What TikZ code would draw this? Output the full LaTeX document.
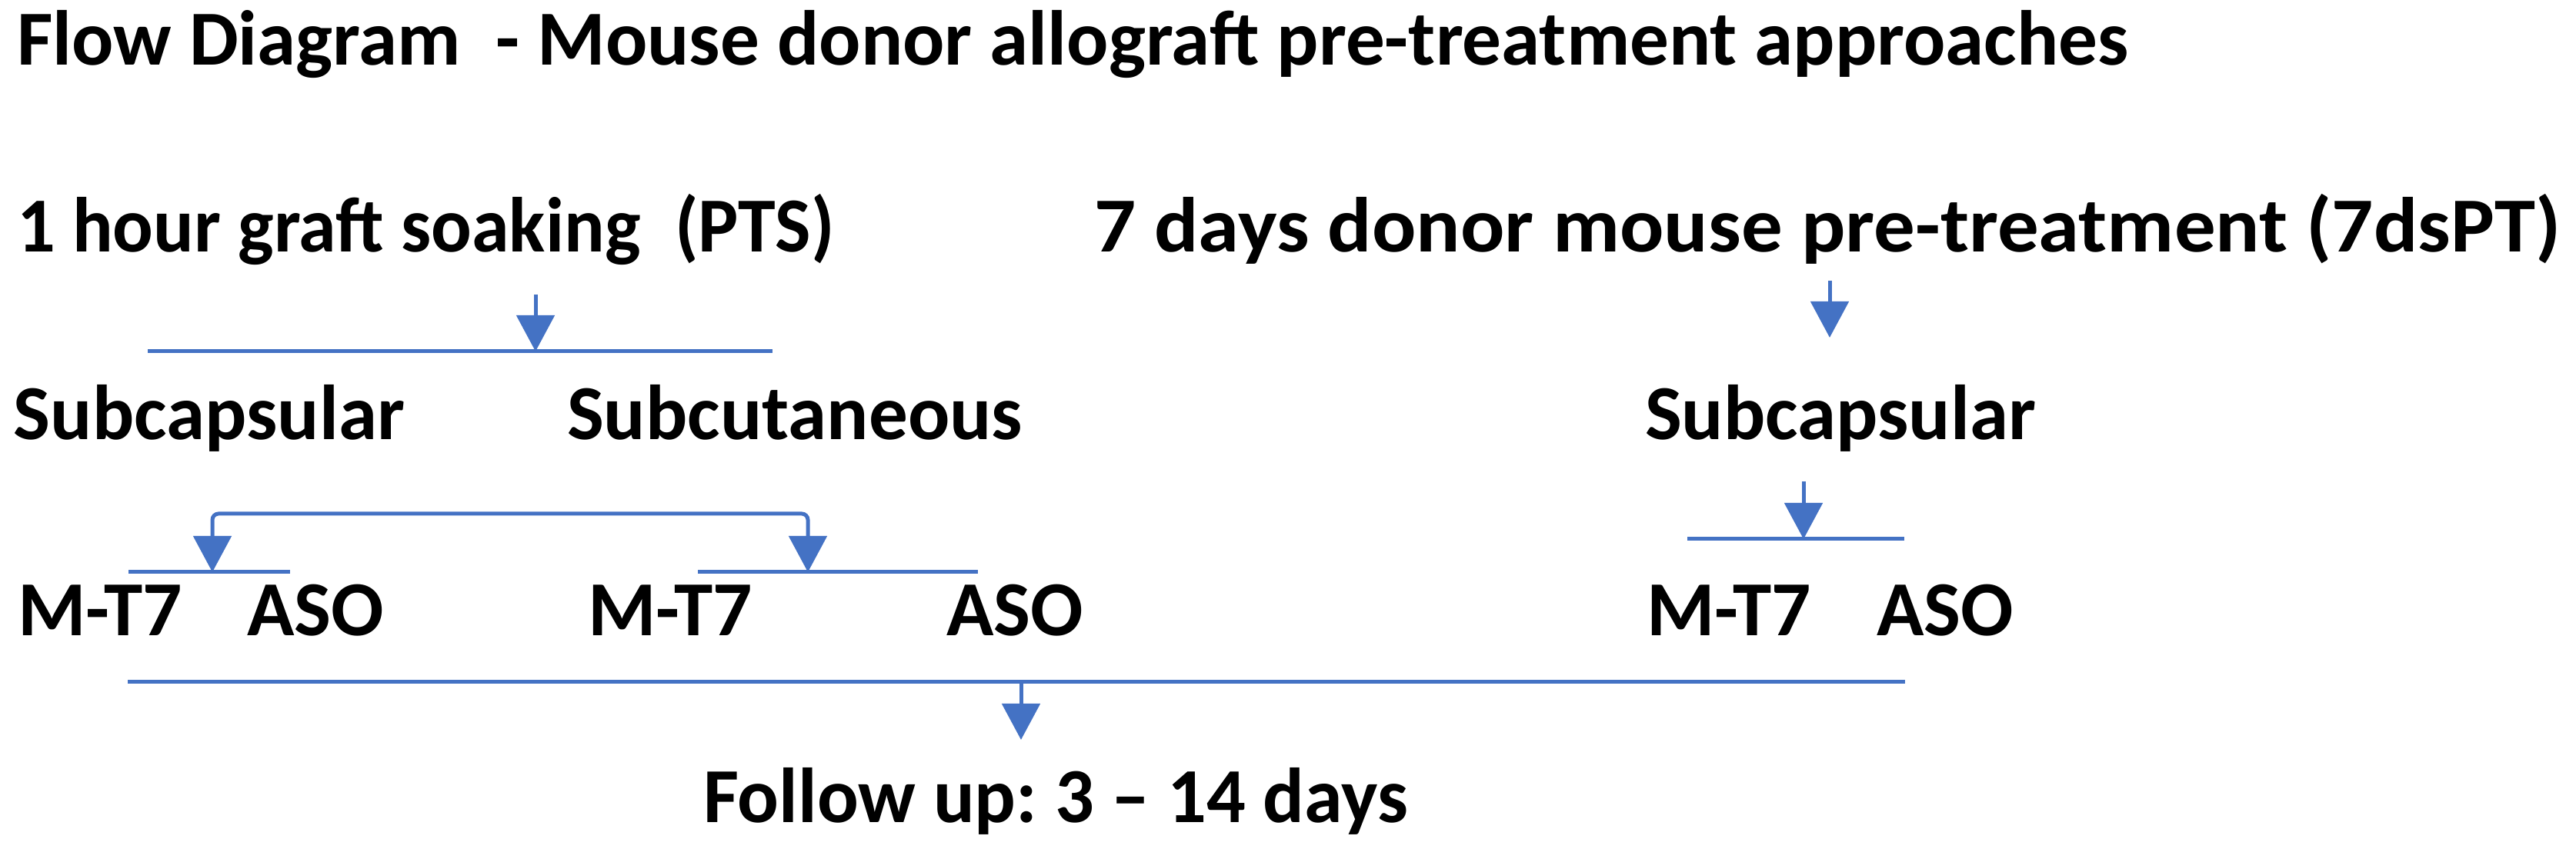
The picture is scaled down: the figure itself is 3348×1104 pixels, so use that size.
\documentclass[tikz,border=0pt]{standalone}
\usepackage{fontspec}
\setmainfont{Carlito}
\usetikzlibrary{arrows.meta}
\definecolor{obl}{HTML}{4472C4}
\frenchspacing
\tikzset{
  lbl/.style={anchor=base west, inner sep=0pt, outer sep=0pt, font=\fontsize{28.8pt}{34pt}\selectfont\bfseries, text=black},
  bar/.style={draw=obl, line width=0.05cm},
  arr/.style={draw=obl, line width=0.05cm, -{Triangle[width=0.49cm,length=0.47cm]}},
  darr/.style={draw=obl, line width=0.05cm, rounded corners=0.08cm, {Triangle[width=0.49cm,length=0.47cm]}-{Triangle[width=0.49cm,length=0.47cm]}}
}
\begin{document}
\begin{tikzpicture}[x=0.01cm,y=-0.01cm]
\useasboundingbox (0,0) rectangle (3348,1104);
% texts
\node[lbl] (title) at (22,85) {Flow Diagram~ - Mouse donor allograft pre-treatment approaches};
\node[lbl] (pts) at (22,328) {\scalebox{0.97}[1]{1 hour graft soaking~ (PTS)}};
\node[lbl] (dspt) at (1422,328) {\scalebox{1.057}[1]{7 days donor mouse pre-treatment (7dsPT)}};
\node[lbl] (subcapA) at (18,572) {Subcapsular};
\node[lbl] (subcut) at (737,572) {Subcutaneous};
\node[lbl] (subcapB) at (2138,572) {Subcapsular};
\node[lbl] (mtA) at (23,827) {M-T7};
\node[lbl] (asoA) at (321,827) {ASO};
\node[lbl] (mtB) at (764,827) {M-T7};
\node[lbl] (asoB) at (1230,827) {ASO};
\node[lbl] (mtC) at (2140,827) {M-T7};
\node[lbl] (asoC) at (2439,827) {ASO};
\node[lbl] (follow) at (914,1070) {\scalebox{0.99}[1]{Follow up: 3 -- 14 days}};
% coordinates
\coordinate (b1l) at (192,457);
\coordinate (b1r) at (1004,457);
\coordinate (a1s) at (696,383);
\coordinate (a1e) at (696,457);
\coordinate (b2l) at (167,744);
\coordinate (b2r) at (377,744);
\coordinate (b3l) at (907,744);
\coordinate (b3r) at (1271,744);
\coordinate (brl) at (276,744);
\coordinate (brr) at (1050,744);
\coordinate (a2s) at (2378,365);
\coordinate (a2e) at (2378,439);
\coordinate (a3s) at (2344,626);
\coordinate (a3e) at (2344,701);
\coordinate (b4l) at (2193,701);
\coordinate (b4r) at (2475,701);
\coordinate (b5l) at (166,887);
\coordinate (b5r) at (2476,887);
\coordinate (a5s) at (1327,887);
\coordinate (a5e) at (1327,962);
% connectors
\draw[bar] (b1l) -- (b1r);
\draw[arr] (a1s) -- (a1e);
\draw[bar] (b2l) -- (b2r);
\draw[bar] (b3l) -- (b3r);
\draw[darr] (brl) -- ++(0,-76) -| (brr);
\draw[arr] (a2s) -- (a2e);
\draw[arr] (a3s) -- (a3e);
\draw[bar] (b4l) -- (b4r);
\draw[bar] (b5l) -- (b5r);
\draw[arr] (a5s) -- (a5e);
\end{tikzpicture}
\end{document}
